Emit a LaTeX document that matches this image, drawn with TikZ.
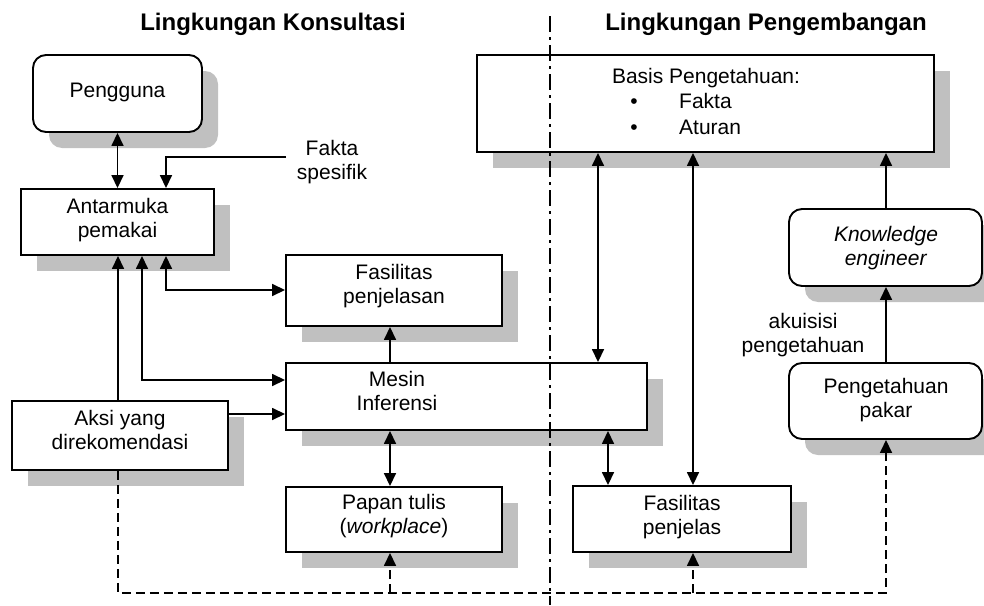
\documentclass[tikz,border=0pt]{standalone}
\usepackage{fontspec}
\setmainfont{Liberation Sans}
\usetikzlibrary{arrows.meta,shadows}
\definecolor{shadowgray}{RGB}{192,192,192}
\tikzset{
  box/.style={draw, fill=white, line width=1.9pt, inner sep=0pt,
    drop shadow={shadow xshift=16pt, shadow yshift=-16pt, fill=shadowgray, opacity=1}},
  rbox/.style={box, rounded corners=13pt},
  txt/.style={anchor=north, inner sep=0pt, align=center, font=\fontsize{21}{24}\selectfont},
  ttl/.style={anchor=base, inner sep=0pt, font=\fontsize{24}{28}\selectfont\bfseries},
  conn/.style={line width=1.6pt},
  ar/.style={conn, -{Triangle[length=13pt,width=12pt]}},
  dar/.style={conn, {Triangle[length=13pt,width=12pt]}-{Triangle[length=13pt,width=12pt]}},
  dsh/.style={conn, dash pattern=on 9pt off 5pt},
  dsar/.style={dsh, -{Triangle[length=13pt,width=12pt]}},
  divider/.style={line width=1.6pt, dash pattern=on 16pt off 5pt on 3pt off 5pt}
}
\begin{document}
\begin{tikzpicture}[x=1pt,y=-1pt]
\useasboundingbox (0,0) rectangle (984,605);
% titles
\node[ttl] (t1) at (273,30) {Lingkungan Konsultasi};
\node[ttl] (t2) at (766,30) {Lingkungan Pengembangan};
% boxes
\node[rbox, minimum width=169pt, minimum height=77pt] (pengguna) at (117.5,93.5) {};
\node[box, minimum width=193pt, minimum height=66pt] (antarmuka) at (117.5,222) {};
\node[box, minimum width=216pt, minimum height=71pt] (fpenjelasan) at (394,290.5) {};
\node[box, minimum width=361pt, minimum height=67pt] (mesin) at (466.5,396.5) {};
\node[box, minimum width=216pt, minimum height=65pt] (papan) at (394,519.5) {};
\node[box, minimum width=216pt, minimum height=69pt] (aksi) at (120,435.5) {};
\node[box, minimum width=457pt, minimum height=97pt] (basis) at (705.5,103.5) {};
\node[box, minimum width=218pt, minimum height=66pt] (fpenjelas) at (682,519) {};
\node[rbox, minimum width=193pt, minimum height=77pt] (knowledge) at (885.5,247.5) {};
\node[rbox, minimum width=193pt, minimum height=76pt] (pakar) at (885.5,401) {};
% texts
\node[txt] (tpengguna) at (117.5,83) {Pengguna};
\node[txt] (tantarmuka) at (117.5,198) {Antarmuka\\pemakai};
\node[txt] (tfakta) at (332,140) {Fakta\\spesifik};
\node[txt] (tfpenjelasan) at (394,264) {Fasilitas\\penjelasan};
\node[txt] (tmesin) at (397,371) {Mesin\\Inferensi};
\node[txt] (tpapan) at (394,494) {Papan tulis\\(\textit{workplace})};
\node[txt] (taksi) at (120,410) {Aksi yang\\direkomendasi};
\node[txt] (tfpenjelas) at (682,495) {Fasilitas\\penjelas};
\node[txt] (tknowledge) at (886,226) {\textit{Knowledge}\\\textit{engineer}};
\node[txt] (tpakar) at (886,378) {Pengetahuan\\pakar};
\node[txt] (takuisisi) at (803,313) {akuisisi\\pengetahuan};
\node[anchor=base, inner sep=0pt, font=\fontsize{21}{24}\selectfont] (tbasis) at (706,83) {Basis Pengetahuan:};
\node[anchor=base, inner sep=0pt, font=\fontsize{21}{24}\selectfont] (b1) at (634,108) {•};
\node[anchor=base, inner sep=0pt, font=\fontsize{21}{24}\selectfont] (b2) at (634,134) {•};
\node[anchor=base west, inner sep=0pt, font=\fontsize{21}{24}\selectfont] (tf) at (679,108) {Fakta};
\node[anchor=base west, inner sep=0pt, font=\fontsize{21}{24}\selectfont] (ta) at (679,134) {Aturan};
% helper coordinates
\coordinate (x118) at (118,0);
\coordinate (x142) at (142,0);
\coordinate (x166) at (166,0);
\coordinate (x390) at (390,0);
\coordinate (x598) at (598,0);
\coordinate (x608) at (608,0);
\coordinate (x693) at (693,0);
\coordinate (x886) at (886,0);
\coordinate (y290) at (0,290);
\coordinate (y380) at (0,380);
\coordinate (y414) at (0,414);
\coordinate (faktaend) at (286,157);
\coordinate (dbot) at (118,593);
% connectors
\draw[dar] (pengguna.south) -- (antarmuka.north);
\draw[ar] (faktaend) -| (x166 |- antarmuka.north);
\draw[ar] (x118 |- aksi.north) -- (x118 |- antarmuka.south);
\draw[dar] (x142 |- antarmuka.south) |- (mesin.west |- y380);
\draw[dar] (x166 |- antarmuka.south) |- (fpenjelasan.west |- y290);
\draw[ar] (aksi.east |- y414) -- (mesin.west |- y414);
\draw[ar] (x390 |- mesin.north) -- (x390 |- fpenjelasan.south);
\draw[dar] (x390 |- mesin.south) -- (x390 |- papan.north);
\draw[dar] (x598 |- basis.south) -- (x598 |- mesin.north);
\draw[dar] (x693 |- basis.south) -- (x693 |- fpenjelas.north);
\draw[dar] (x608 |- mesin.south) -- (x608 |- fpenjelas.north);
\draw[ar] (x886 |- knowledge.north) -- (x886 |- basis.south);
\draw[ar] (x886 |- pakar.north) -- (x886 |- knowledge.south);
% dashed feedback
\draw[dsar] (x118 |- aksi.south) -- (dbot) -| (x886 |- pakar.south);
\draw[dsar] (x390 |- dbot) -- (x390 |- papan.south);
\draw[dsar] (x693 |- dbot) -- (x693 |- fpenjelas.south);
% divider
\coordinate (dtop) at (550,16);
\coordinate (dend) at (550,605);
\draw[divider] (dtop) -- (dend);
\end{tikzpicture}
\end{document}
